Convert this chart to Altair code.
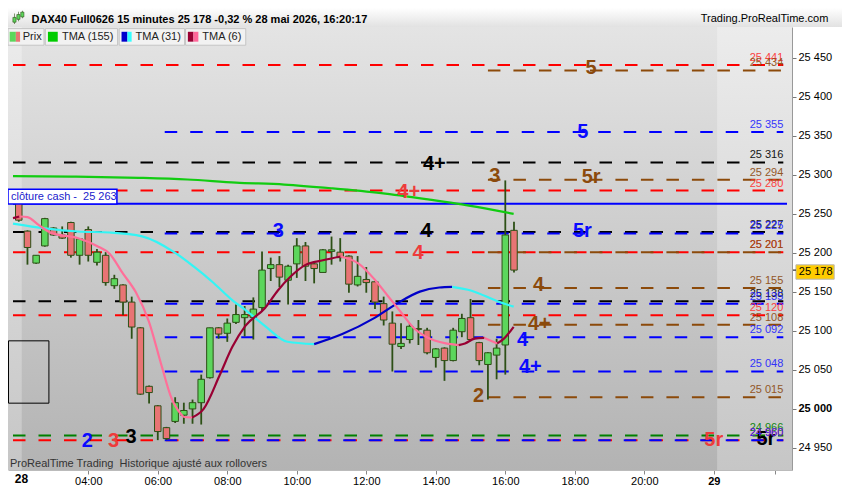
import altair as alt
import pandas as pd

# ---------------- data ----------------
# 15-minute bars of 28 May, first visible bar at 02:00 (hours as decimals)
bar_hours = [2 + 0.25 * i for i in range(58)]
opens = [25265, 25228, 25187, 25209, 25232, 25223, 25239, 25197, 25230, 25188,
         25197, 25158, 25159, 25137, 25104, 25029, 25004, 24976, 24984, 24992,
         25000, 25008, 25040, 25104, 25097, 25111, 25117, 25117, 25130, 25180,
         25185, 25165, 25186, 25209, 25186, 25175, 25202, 25201, 25196, 25159,
         25166, 25163, 25135, 25110, 25080, 25089, 25103, 25101, 25066, 25078,
         25062, 25099, 25117, 25085, 25057, 25069, 25082, 25229]
highs = [25270, 25229, 25197, 25245, 25233, 25234, 25240, 25219, 25234, 25205,
         25201, 25172, 25160, 25144, 25105, 25030, 25005, 24977, 25015, 25008,
         25012, 25044, 25104, 25105, 25116, 25134, 25132, 25143, 25202, 25194,
         25196, 25185, 25219, 25214, 25187, 25205, 25221, 25219, 25197, 25196,
         25182, 25164, 25144, 25125, 25110, 25110, 25114, 25104, 25078, 25079,
         25104, 25122, 25141, 25086, 25073, 25090, 25293, 25240]
lows = [25240, 25185, 25186, 25208, 25222, 25218, 25194, 25185, 25189, 25184,
        25158, 25154, 25120, 25090, 25018, 25007, 24960, 24960, 24982, 24981,
        24981, 24980, 25039, 25090, 25086, 25109, 25093, 25089, 25125, 25164,
        25156, 25134, 25168, 25164, 25161, 25175, 25185, 25189, 25149, 25157,
        25149, 25128, 25107, 25048, 25077, 25084, 25082, 25070, 25053, 25036,
        25061, 25092, 25088, 25056, 25012, 25038, 25044, 25175]
closes = [25242, 25207, 25197, 25244, 25223, 25219, 25197, 25218, 25197, 25201,
          25162, 25167, 25137, 25105, 25019, 25021, 24971, 24962, 25008, 24998,
          25008, 25038, 25104, 25096, 25110, 25121, 25121, 25128, 25178, 25185,
          25169, 25183, 25209, 25183, 25180, 25204, 25204, 25194, 25160, 25170,
          25162, 25137, 25114, 25083, 25084, 25106, 25102, 25072, 25077, 25062,
          25101, 25116, 25089, 25062, 25072, 25078, 25223, 25178]

tma155_h = [1.834, 3.51, 5.46, 6.85, 8.25, 9.64, 11.03, 12.43, 13.82, 14.75, 15.68, 16.24]
tma155_p = [25298.5, 25297.9, 25296.3, 25294.2, 25290.2, 25287.7, 25282.8, 25276.7,
            25268.4, 25262.3, 25254.9, 25250.0]

tma31_h = [1.834, 2.76, 3.69, 4.62, 5.55, 6.48, 7.04, 7.60, 8.15, 8.52, 9.08,
           9.73, 10.50, 11.31, 12.24, 12.89, 13.54, 14.10, 14.47, 15.03, 15.77, 16.24]
tma31_p = [25237.7, 25231.5, 25227.5, 25226.2, 25221.3, 25200.8, 25182.4, 25161.8,
           25139.3, 25127.0, 25106.5, 25086.1, 25083.1, 25096.0, 25116.8, 25135.3,
           25150.4, 25155.7, 25156.5, 25151.6, 25138.1, 25131.1]

tma6_h = [1.834, 2.02, 2.25, 2.58, 2.95, 3.69, 4.25, 4.62, 4.99, 5.37,
          5.74, 6.11, 6.39, 6.66, 6.76, 6.99, 7.32, 7.78, 8.15, 8.52,
          9.08, 9.45, 9.83, 10.24, 10.75, 11.26, 11.78, 12.24, 12.61, 12.98,
          13.35, 13.73, 14.29, 14.66, 14.84, 15.12, 15.40, 15.77, 15.96, 16.24]
tma6_p = [25244.7, 25246.7, 25245.9, 25235.6, 25225.4, 25219.2, 25209.0, 25198.7, 25174.1, 25149.5,
          25112.6, 25055.4, 25014.3, 24993.9, 24989.7, 24989.0, 25000.0, 25043.1, 25079.9, 25106.5,
          25129.1, 25151.6, 25170.1, 25184.4, 25190.6, 25195.5, 25186.4, 25166.0, 25145.5, 25124.9,
          25104.5, 25092.2, 25084.0, 25081.9, 25084.0, 25090.1, 25091.0, 25084.0, 25090.1, 25105.3]

level_prices = [25441, 25434, 25355, 25316, 25294, 25280, 25227, 25225, 25201, 25201,
                25155, 25138, 25135, 25120, 25108, 25092, 25048, 25015, 24966, 24960, 24960]
level_kinds = ['red', 'brown', 'blue', 'black', 'brown', 'red', 'black', 'blue', 'red', 'brown',
               'brown', 'black', 'blue', 'red', 'brown', 'blue', 'blue', 'brown', 'green', 'red', 'blue']
level_from = [1.834, 15.5, 6.2, 1.834, 15.5, 1.834, 1.834, 6.2, 1.834, 15.5,
              15.5, 1.834, 6.2, 1.834, 15.5, 6.2, 6.2, 15.5, 1.834, 1.834, 6.2]
level_to = 24.0

tag_text = ['5', '5', '4+', '3', '5r', '4+', '3', '4', '5r', '4',
            '4', '4+', '4', '4+', '2', '2', '3', '3', '5r', '5r']
tag_kind = ['brown', 'blue', 'black', 'brown', 'brown', 'red', 'blue', 'black', 'blue', 'red',
            'brown', 'brown', 'blue', 'blue', 'brown', 'blue', 'red', 'black', 'red', 'black']
tag_h = [18.47, 18.23, 13.96, 15.70, 18.47, 13.22, 9.47, 13.73, 18.22, 13.49,
         16.96, 16.98, 16.50, 16.72, 15.23, 3.97, 4.73, 5.23, 22.0, 23.50]
tag_p = [25437.2, 25355.3, 25313.5, 25298.5, 25297.9, 25278.6, 25228.2, 25227.5, 25228.2, 25199.6,
         25158.6, 25108.6, 25088.9, 25053.3, 25016.4, 24959.0, 24959.0, 24964.4, 24960.2, 24962.0]

cash_price = 25263
x_ticks = [4, 6, 8, 10, 12, 14, 16, 18, 20, 22, 23.77]
y_ticks = list(range(24950, 25451, 50))

NB = "\u00a0"
title_txt = "DAX40 Full0626 15 minutes 25 178 -0,32 % 28 mai 2026, 16:20:17"
site_txt = "Trading.ProRealTime.com"
footer_txt = "ProRealTime Trading " + NB + "Historique ajusté aux rollovers"
cash_txt = "clôture cash - " + NB + "25 263"

# ---------------- styling / layout ----------------
FONT = "Liberation Sans"
W, H = 784, 443
SX, SY = W / 799, H / 462
X_DOM = [1.834, 24.106]
Y_DOM = [24921.7, 25489.7]
PX_PER_PT = 0.8134  # reference pixels per index point

LINE_COL = {'red': '#ff0000', 'brown': '#8c4a0a', 'blue': '#0000ff', 'black': '#000000', 'green': '#008000'}
LBL_COL = {'red': '#ff3030', 'brown': '#8c4a10', 'blue': '#2222ff', 'black': '#000000', 'green': '#008000'}
TAG_COL = {'red': '#ee3b3b', 'brown': '#8b4a0c', 'blue': '#0a0aff', 'black': '#000000'}
UP_FILL, DN_FILL, EDGE = '#5cd65c', '#e87474', '#2d5016'


def X(xr):
    return xr * SX


def Y(yr):
    return (yr - 20) * SY


one = alt.Data(values=[{"k": 0}])


def vgrad(top, bottom):
    return {"gradient": "linear", "x1": 0, "x2": 0, "y1": 0, "y2": 1,
            "stops": [{"offset": 0, "color": top}, {"offset": 1, "color": bottom}]}


def rect_px(x1, y1, x2, y2, **kw):
    return alt.Chart(one).mark_rect(**kw).encode(
        x=alt.value(X(x1)), x2=alt.value(X(x2)), y=alt.value(Y(y1)), y2=alt.value(Y(y2)))


def text_px(xr, yr, s, size=11, weight='normal', color='#000000', align='left'):
    return alt.Chart(one).mark_text(text=s, fontSize=size, fontWeight=weight, color=color,
                                    align=align, baseline='middle', font=FONT).encode(
        x=alt.value(X(xr)), y=alt.value(Y(yr)))


xs = alt.Scale(domain=X_DOM, nice=False, zero=False)
ys = alt.Scale(domain=Y_DOM, nice=False, zero=False)

xaxis = alt.Axis(values=x_ticks, title=None, grid=False, tickSize=4, tickColor='#888888',
                 domainColor='#bbbbbb', labelFont=FONT, labelColor='#000000', labelPadding=1,
                 labelFlush=False, labelFontSize=11, zindex=1,
                 labelExpr="datum.value == 22 ? '29' : (datum.value > 23 ? '' : ((datum.value < 10 ? '0' : '') + datum.value + ':00'))",
                 labelFontWeight={"condition": {"test": "datum.value == 22", "value": "bold"}, "value": "normal"})
yaxis = alt.Axis(orient='right', values=y_ticks, title=None, grid=False, tickSize=4,
                 tickColor='#777777', domainColor='#999999', labelFont=FONT, labelFontSize=11,
                 labelColor='#000000', labelPadding=2, zindex=1,
                 labelExpr="replace(format(datum.value, ','), ',', ' ')",
                 labelFontWeight={"condition": {"test": "datum.value == 25000", "value": "bold"}, "value": "normal"})


def XQ(field):
    return alt.X(field, scale=xs, axis=xaxis)


def YQ(field):
    return alt.Y(field, scale=ys, axis=yaxis)


# ---------------- frames ----------------
cdf = pd.DataFrame({'t': bar_hours, 'o': opens, 'h': highs, 'l': lows, 'c': closes})
cdf['fillc'] = [UP_FILL if c >= o else DN_FILL for o, c in zip(opens, closes)]

ldf = pd.DataFrame({'price': level_prices, 'kind': level_kinds, 'start': level_from})
ldf['end'] = level_to
ldf['lc'] = ldf['kind'].map(LINE_COL)
ldf['tc'] = ldf['kind'].map(LBL_COL)
ldf['label'] = [f"{p:,}".replace(",", " ") for p in level_prices]

tdf = pd.DataFrame({'h': tag_h, 'p': tag_p, 'txt': tag_text})
tdf['col'] = [TAG_COL[k] for k in tag_kind]


def segments(hs, ps, up_col, dn_col, name):
    rows, seg, cur = [], 0, None
    for k in range(len(hs) - 1):
        col = up_col if ps[k + 1] >= ps[k] else dn_col
        if col != cur:
            seg += 1
            cur = col
            rows.append({'h': hs[k], 'p': ps[k], 'seg': f"{name}{seg}", 'col': col})
        rows.append({'h': hs[k + 1], 'p': ps[k + 1], 'seg': f"{name}{seg}", 'col': col})
    return rows


mrows = (segments(tma155_h, tma155_p, '#11cc11', '#11cc11', 'a')
         + segments(tma31_h, tma31_p, '#0000c8', '#33f5f5', 'b')
         + segments(tma6_h, tma6_p, '#990033', '#ff6f99', 'c'))
mdf = pd.DataFrame(mrows)

# ---------------- layers ----------------
bg = rect_px(0, 20, 799, 482, fill=vgrad('#e4e4e4', '#b3b3b3'))
band_l = rect_px(0, 20, 14, 482, fill=vgrad('#ececec', '#c6c6c6'))
band_r = rect_px(722.7, 20, 799, 482, fill=vgrad('#ececec', '#c6c6c6'))

rules = alt.Chart(ldf).mark_rule(strokeWidth=2, strokeDash=[12.5, 13]).encode(
    x=XQ('start:Q'), x2='end:Q', y=YQ('price:Q'),
    color=alt.Color('lc:N', scale=None))

cash = alt.Chart(pd.DataFrame({'p': [cash_price], 'a': [X_DOM[0]], 'b': [X_DOM[1]]})).mark_rule(
    color='#0000ff', strokeWidth=2).encode(x=XQ('a:Q'), x2='b:Q', y=YQ('p:Q'))

wicks = alt.Chart(cdf).mark_rule(color=EDGE, strokeWidth=1.8).encode(
    x=XQ('t:Q'), y=YQ('l:Q'), y2='h:Q')

bodies = alt.Chart(cdf).mark_bar(width=6.5, stroke=EDGE, strokeWidth=1).encode(
    x=XQ('t:Q'), y=YQ('o:Q'), y2='c:Q',
    fill=alt.Fill('fillc:N', scale=None))

mas = alt.Chart(mdf).mark_line(strokeWidth=2.2, interpolate='monotone').encode(
    x=XQ('h:Q'), y=YQ('p:Q'),
    detail='seg:N', color=alt.Color('col:N', scale=None))

tags = alt.Chart(tdf).mark_text(fontSize=20, fontWeight='bold', align='center',
                                baseline='middle', font=FONT).encode(
    x=XQ('h:Q'), y=YQ('p:Q'),
    text='txt:N', color=alt.Color('col:N', scale=None))

lvl_labels = alt.Chart(ldf).mark_text(fontSize=11, align='right', baseline='alphabetic',
                                      dy=-4, font=FONT, opacity=0.9).encode(
    x=XQ('end:Q'), y=YQ('price:Q'),
    text='label:N', color=alt.Color('tc:N', scale=None))

cash_box = rect_px(0, 189.3, 111, 204.5, fill='#ffffff', stroke='#0000ff', strokeWidth=1.5)
cash_lbl = text_px(3, 197, cash_txt, color='#2222cc')
black_box = rect_px(0.5, 347.3, 41.7, 412.3, fill='#ffffff', fillOpacity=0, stroke='#000000', strokeWidth=1)
footer = text_px(2, 476, footer_txt, color='#333333')

# current price marker on the right axis
cur = alt.Chart(pd.DataFrame({'p': [closes[-1]]})).transform_calculate(
    top=f"datum.p + {5.5 / PX_PER_PT}", bot=f"datum.p - {9.5 / PX_PER_PT}")
cur_box = cur.mark_rect(fill='#ffcc00', stroke='#b8b8b8', strokeWidth=1).encode(
    x=alt.value(X(803)), x2=alt.value(X(842)),
    y=YQ('top:Q'), y2='bot:Q')
cur_tick = cur.mark_rule(color='#000000', strokeWidth=1).encode(
    x=alt.value(X(799)), x2=alt.value(X(803)), y=YQ('p:Q'))
cur_txt = cur.mark_text(fontSize=11, align='left', baseline='middle', dy=2, font=FONT,
                        color='#000000').encode(
    x=alt.value(X(806)), y=YQ('p:Q'),
    text=alt.value(f"{closes[-1]:,}".replace(",", " ")))

day_lbl = text_px(13.7, 491.7, '28', size=12, weight='bold', align='center')

# title bar and legend strip
title_bg = rect_px(0, 0, 850, 20, fill=vgrad('#ffffff', '#e2e2e2'))
title_t = text_px(24, 12.5, title_txt, weight='bold')
site_t = text_px(836, 12, site_txt, align='right')
icon = [rect_px(6.3, 6, 6.9, 17, fill=EDGE), rect_px(5, 10, 8.2, 15, fill=UP_FILL, stroke=EDGE, strokeWidth=0.6),
        rect_px(10.3, 4, 10.9, 14, fill=EDGE), rect_px(9, 7, 12.2, 12, fill=UP_FILL, stroke=EDGE, strokeWidth=0.6),
        rect_px(14.3, 3, 14.9, 11, fill=EDGE), rect_px(13, 4.5, 16.2, 9.5, fill=UP_FILL, stroke=EDGE, strokeWidth=0.6)]

legend = []
for (x1, x2, label, tx, sw) in [
        (0, 36.7, 'Prix', 15, [(1.7, 8, UP_FILL), (8, 12.3, DN_FILL)]),
        (38, 111.7, 'TMA (155)', 55, [(40.7, 50.7, '#00cc00')]),
        (113.3, 180, 'TMA (31)', 130, [(115.7, 121.7, '#0000cc'), (121.7, 126, '#33ffff')]),
        (181, 242.3, 'TMA (6)', 198, [(183.3, 189, '#990033'), (189, 194, '#ff6699')])]:
    legend.append(rect_px(x1, 21.7, x2, 39, fill='#f2f2f2', stroke='#c4c4c4', strokeWidth=1))
    for (a, b, col) in sw:
        legend.append(rect_px(a, 25, b, 35.3, fill=col))
    legend.append(text_px(tx, 30.5, label, color='#222222'))

chart = alt.layer(
    bg, band_l, band_r, rules, cash, wicks, bodies, mas, tags, lvl_labels,
    cash_box, cash_lbl, black_box, footer, cur_box, cur_tick, cur_txt, day_lbl,
    title_bg, title_t, site_t, *icon, *legend
).properties(
    width=W, height=H,
    padding={"left": 0, "top": 19, "right": 50, "bottom": 16},
    autosize=alt.AutoSizeParams(type='none'),
    background='#ffffff'
).configure_view(strokeWidth=0)

chart.save("out.html", embed_options={"renderer": "svg", "actions": False})
